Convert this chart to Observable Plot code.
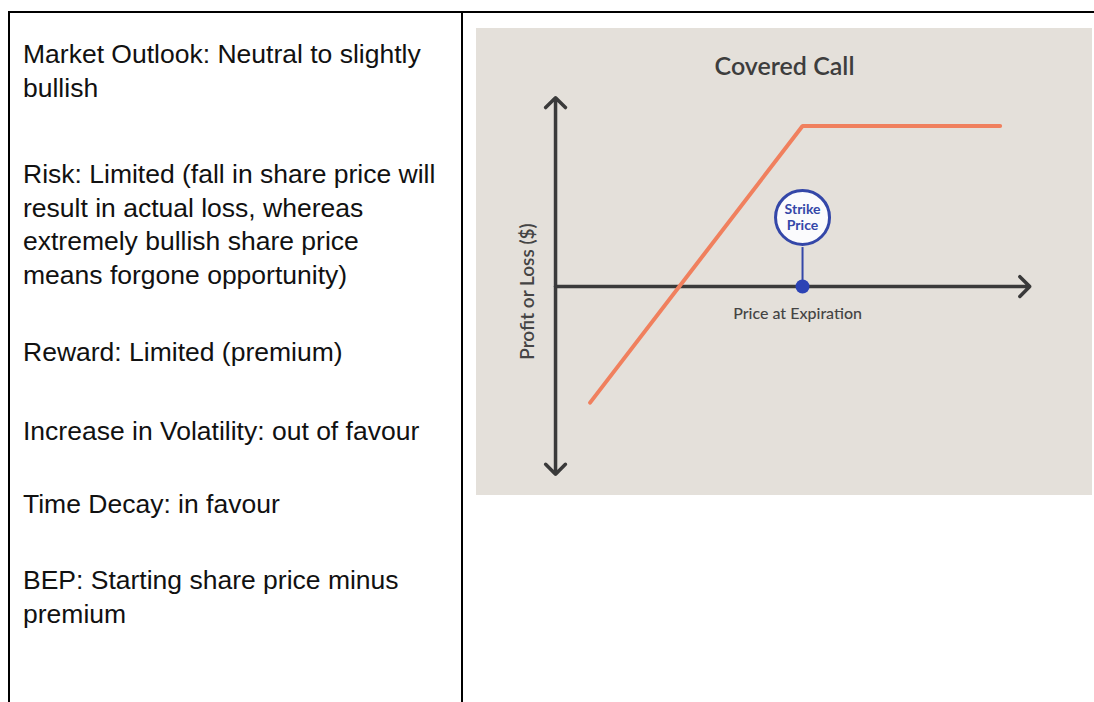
<!DOCTYPE html>
<html>
<head>
<meta charset="utf-8">
<script src="https://cdn.jsdelivr.net/npm/d3@7"></script>
<script src="https://cdn.jsdelivr.net/npm/@observablehq/plot@0.6"></script>
<style>
  html, body { margin: 0; padding: 0; background: #fff; width: 1094px; height: 702px; overflow: hidden; }
  .frame { position: absolute; left: 8px; top: 11px; width: 1200px; height: 800px;
           border-top: 2px solid #000; border-left: 2px solid #000; }
  .divider { position: absolute; left: 461px; top: 11px; width: 2px; height: 800px; background: #000; }
  .cell { position: absolute; left: 23px; top: 0; width: 436px;
          font-family: "Liberation Sans", Arial, sans-serif; font-size: 26.5px; color: #111; }
  .cell p { position: absolute; left: 0; margin: 0; line-height: 33.5px; white-space: nowrap; }
  #chart { position: absolute; left: 476px; top: 28px; }
</style>
</head>
<body>
<div class="frame"></div>
<div class="divider"></div>
<div class="cell" id="cell"></div>
<div id="chart"></div>
<script>
// ---- Left cell text (one entry per paragraph, lines as wrapped in the reference)
const notes = [
  ["Market Outlook: Neutral to slightly", "bullish"],
  ["Risk: Limited (fall in share price will", "result in actual loss, whereas", "extremely bullish share price", "means forgone opportunity)"],
  ["Reward: Limited (premium)"],
  ["Increase in Volatility: out of favour"],
  ["Time Decay: in favour"],
  ["BEP: Starting share price minus", "premium"]
];
const noteTops = [38, 158, 336, 415, 488, 564];

// ---- Chart data (price at expiration vs profit/loss, strike at 100)
const payoffPrice = [14, 100, 180];
const payoffValue = [-47, 65, 65];
const strikePrice = 100;
const strikeLabelY = 28;
const strikeStemTop = 16;
const xAxisEnd = 192;
const yAxisTop = 76.5;
const yAxisBottom = -76;
const titleText = "Covered Call";
const xLabel = "Price at Expiration";
const yLabel = "Profit or Loss ($)";
const strikeLines = ["Strike", "Price"];

const cell = document.getElementById("cell");
notes.forEach((lines, i) => {
  const p = document.createElement("p");
  p.style.top = noteTops[i] + "px";
  lines.forEach((l, j) => {
    if (j) p.appendChild(document.createElement("br"));
    p.appendChild(document.createTextNode(l));
  });
  cell.appendChild(p);
});

const payoff = payoffPrice.map((x, i) => ({x, y: payoffValue[i]}));
const axisDark = "#3a3a3a";
const blue = "#3447a8";

const chart = Plot.plot({
  width: 616,
  height: 467,
  margin: 0,
  x: {domain: [-32, 217.4], axis: null},
  y: {domain: [-84.6, 104.5], axis: null},
  style: {background: "#e4e0da", fontFamily: "Lato, 'Open Sans', sans-serif", overflow: "visible"},
  marks: [
    Plot.text([titleText], {frameAnchor: "top", dy: 29, text: d => d, fontSize: 25, fontWeight: 600, fill: "#3d3d3d"}),
    Plot.arrow([{x1: 0, y1: 0, x2: xAxisEnd, y2: 0}], {x1: "x1", y1: "y1", x2: "x2", y2: "y2", stroke: axisDark, strokeWidth: 3.5, headLength: 6, headAngle: 90}),
    Plot.arrow([{x1: 0, y1: 0, x2: 0, y2: yAxisTop}, {x1: 0, y1: 0, x2: 0, y2: yAxisBottom}], {x1: "x1", y1: "y1", x2: "x2", y2: "y2", stroke: axisDark, strokeWidth: 3.5, headLength: 6, headAngle: 90}),
    Plot.line(payoff, {x: "x", y: "y", stroke: "#f0805e", strokeWidth: 4, strokeLinejoin: "miter"}),
    Plot.link([strikePrice], {x1: d => d, x2: d => d, y1: 0, y2: strikeStemTop, stroke: blue, strokeWidth: 2}),
    Plot.dot([strikePrice], {x: d => d, y: 0, r: 7, fill: "#2c43b5", stroke: "none"}),
    Plot.dot([strikePrice], {x: d => d, y: strikeLabelY, r: 27, fill: "#fbfbfd", stroke: blue, strokeWidth: 3}),
    Plot.text([strikeLines[0]], {x: strikePrice, y: strikeLabelY, dy: -8, text: d => d, fontSize: 14, fontWeight: "bold", fill: blue}),
    Plot.text([strikeLines[1]], {x: strikePrice, y: strikeLabelY, dy: 8, text: d => d, fontSize: 14, fontWeight: "bold", fill: blue}),
    Plot.text([xLabel], {x: 98, y: -11, text: d => d, fontSize: 16, fontWeight: 500, fill: "#444"}),
    Plot.text([yLabel], {x: -11.3, y: -2, text: d => d, fontSize: 19, fontWeight: 600, fill: "#444", rotate: -90, letterSpacing: 1.8})
  ]
});
document.getElementById("chart").appendChild(chart);
</script>
</body>
</html>
